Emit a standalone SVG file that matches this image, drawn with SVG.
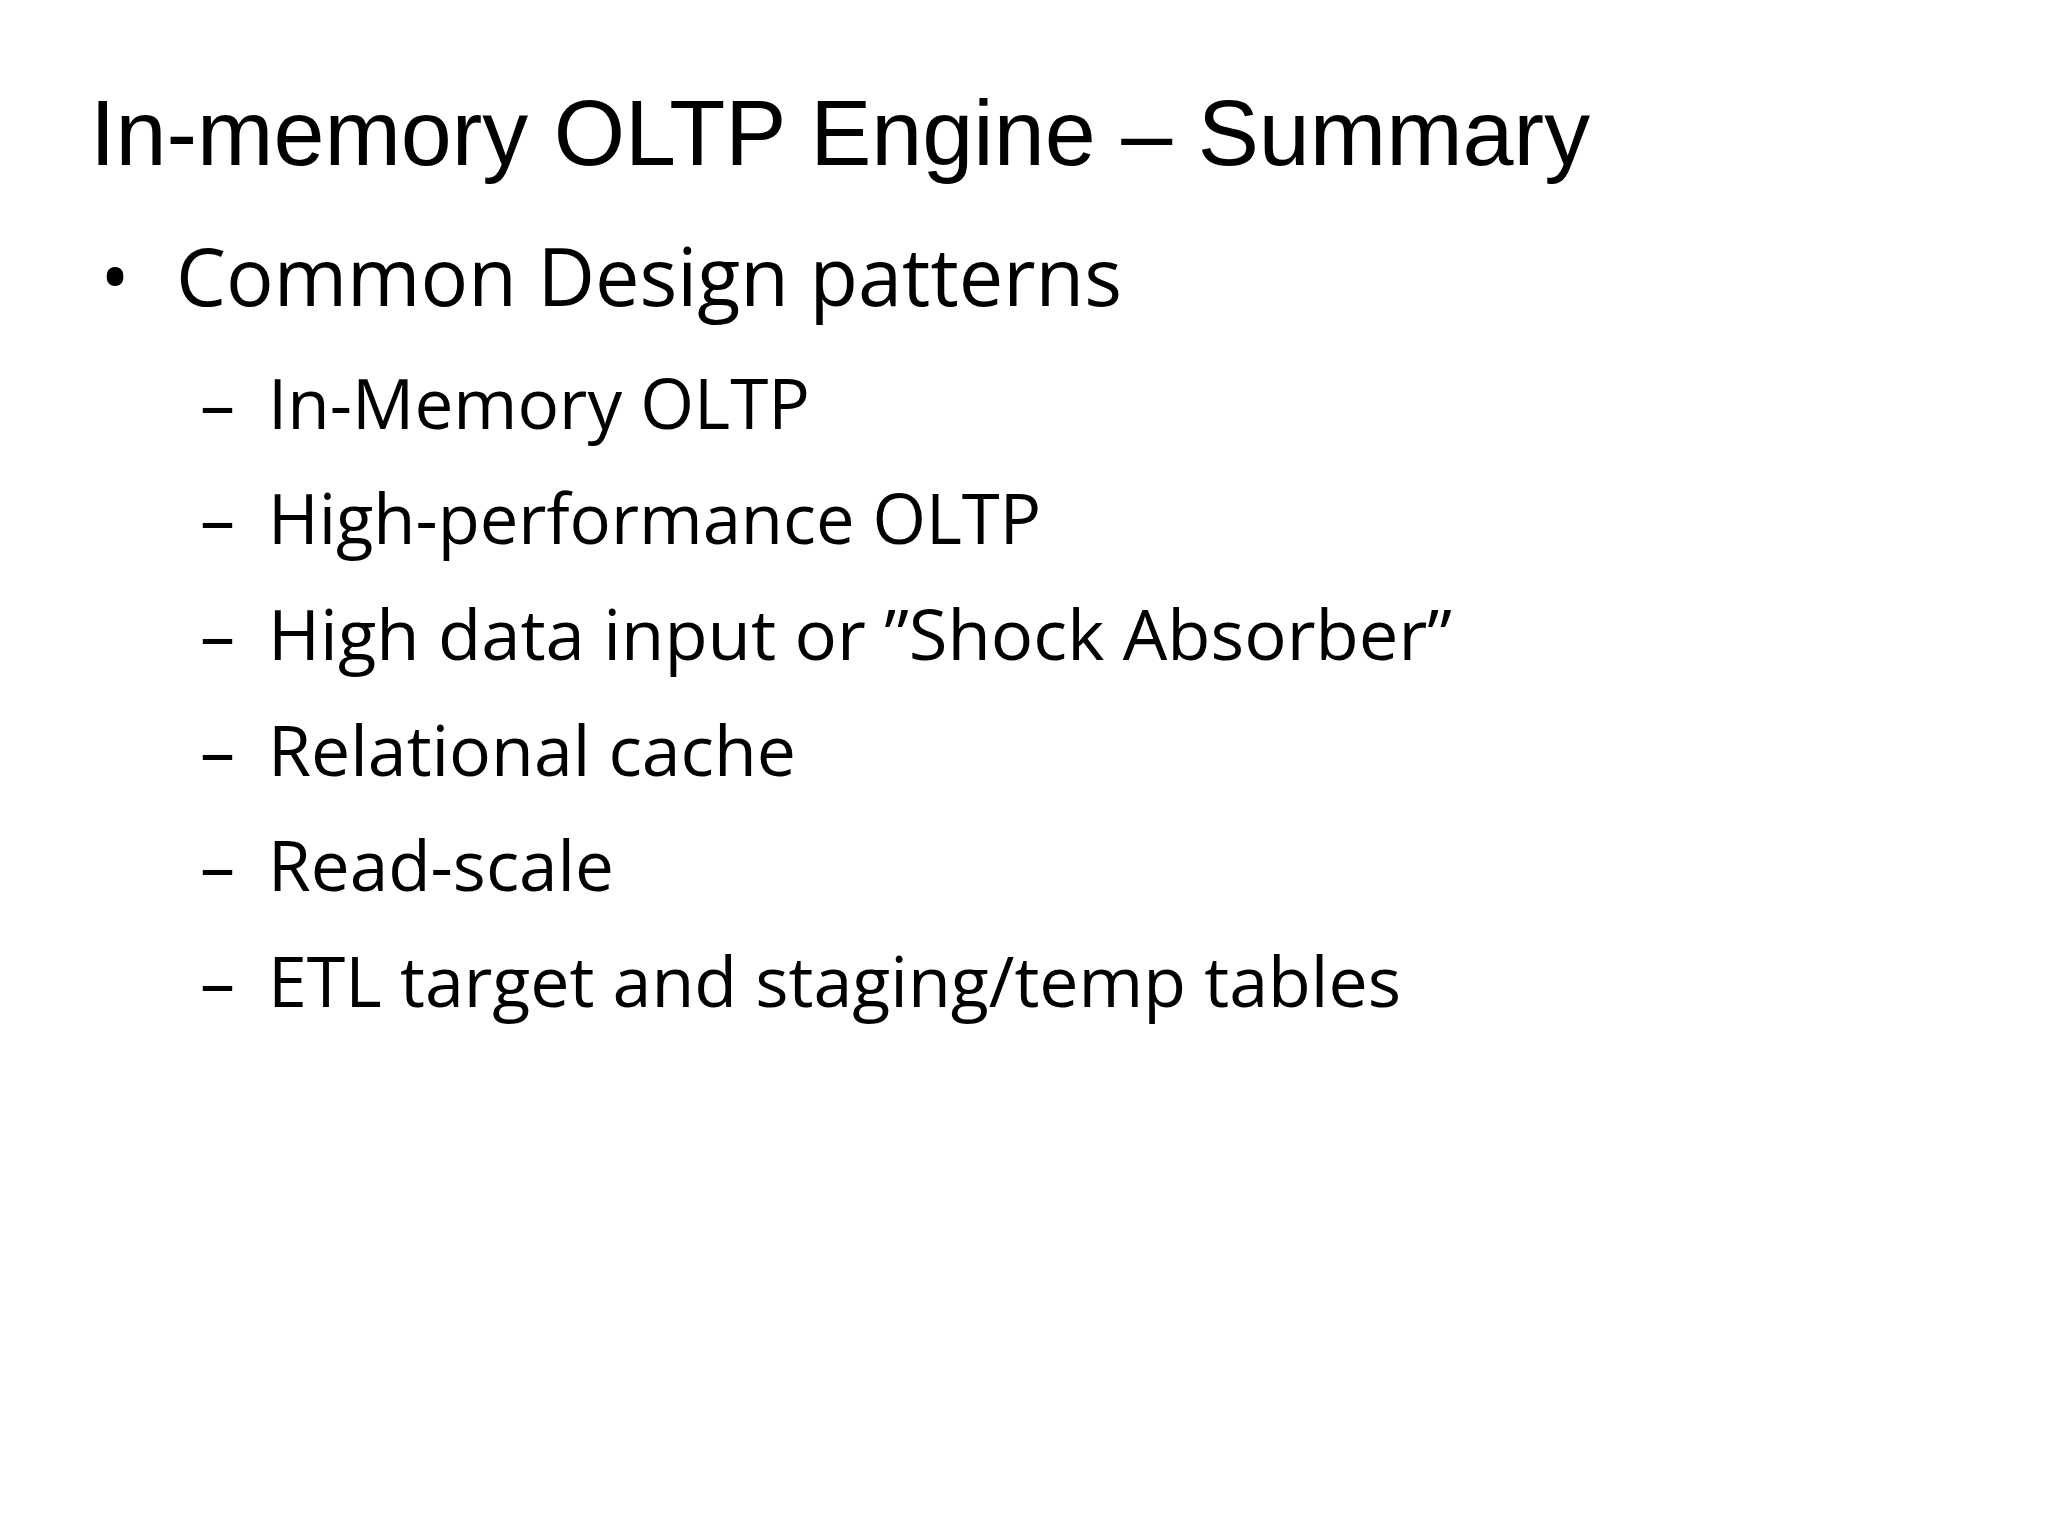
<svg xmlns="http://www.w3.org/2000/svg" width="2048" height="1536" viewBox="0 0 2048 1536">
<style>
.t{font-family:"Liberation Sans",Arial,sans-serif;font-size:92px;fill:#000}
.b{font-family:"Open Sans","Noto Sans",sans-serif;font-size:80px;fill:#000}
.s{font-family:"Open Sans","Noto Sans",sans-serif;font-size:70px;fill:#000}
</style>
<rect width="2048" height="1536" fill="#fff"/>
<g id="title"><text class="t" x="90" y="165" textLength="1500" lengthAdjust="spacingAndGlyphs">In-memory OLTP Engine – Summary</text></g>
<g id="bullet"><text class="b" x="100" y="306">•</text>
<text class="b" x="176" y="306" textLength="946" lengthAdjust="spacingAndGlyphs">Common Design patterns</text></g>
<g id="items">
<text class="s" x="200" y="429">–</text><text class="s" x="268" y="429" textLength="542" lengthAdjust="spacingAndGlyphs">In-Memory OLTP</text>
<text class="s" x="200" y="544">–</text><text class="s" x="268" y="544" textLength="773" lengthAdjust="spacingAndGlyphs">High-performance OLTP</text>
<text class="s" x="200" y="660">–</text><text class="s" x="268" y="660" textLength="1184" lengthAdjust="spacingAndGlyphs">High data input or ”Shock Absorber”</text>
<text class="s" x="200" y="776">–</text><text class="s" x="268" y="776" textLength="528" lengthAdjust="spacingAndGlyphs">Relational cache</text>
<text class="s" x="200" y="891">–</text><text class="s" x="268" y="891" textLength="346" lengthAdjust="spacingAndGlyphs">Read-scale</text>
<text class="s" x="200" y="1007">–</text><text class="s" x="268" y="1007" textLength="1133" lengthAdjust="spacingAndGlyphs">ETL target and staging/temp tables</text>
</g>
</svg>
